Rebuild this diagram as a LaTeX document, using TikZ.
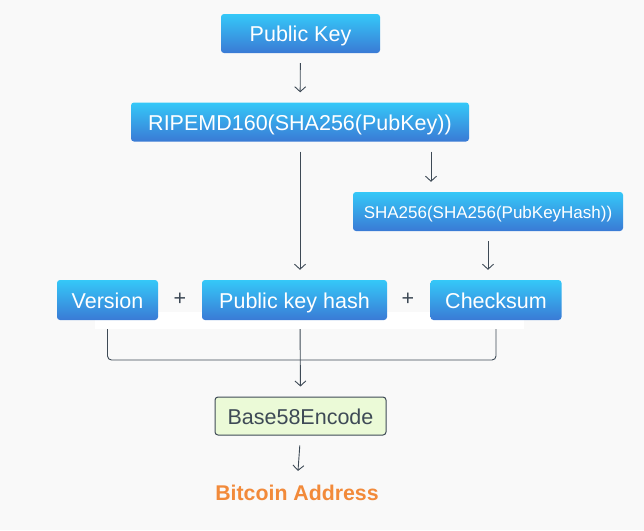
\documentclass[tikz,border=0pt]{standalone}
\usepackage{fontspec}
\setmainfont{Liberation Sans}
\usetikzlibrary{arrows.meta}

\definecolor{boxtop}{HTML}{35C8F8}
\definecolor{boxbot}{HTML}{3A7AD5}
\definecolor{ink}{HTML}{3E4A56}
\definecolor{paper}{HTML}{F9F9F9}
\definecolor{encfill}{HTML}{EBFAD7}
\definecolor{addr}{HTML}{F28A3A}

\begin{document}
\begin{tikzpicture}[x=1pt,y=-1pt,
    link/.style={draw=ink,line width=0.9pt},
    arr/.style={link,-{Straight Barb[length=5pt,width=11pt]},shorten <=10pt,shorten >=10pt}]

        \fill[paper] (0,0) rectangle (644,530);
        \useasboundingbox (0,0) rectangle (644,530);
        \fill[white] (95,312) rectangle (524,329);

        \begin{scope}[every node/.style={rounded corners=3pt, top color=boxtop, bottom color=boxbot,
            text=white, font=\fontsize{21.5}{24}\selectfont, text height=16.4pt, text depth=0pt,
            minimum height=39pt, inner sep=0pt}]
          \node[minimum width=159pt] (pubkey)   at (300.5,33.5) {Public Key};
          \node[minimum width=338pt] (ripemd)   at (300,122)    {RIPEMD160(SHA256(PubKey))};
          \node[minimum width=270pt, font=\fontsize{17}{20}\selectfont, text height=13pt]
                                     (sha)      at (488,211.5)  {SHA256(SHA256(PubKeyHash))};
          \node[minimum width=101pt, minimum height=40pt] (version)  at (107.5,300) {Version};
          \node[minimum width=185pt, minimum height=40pt] (pkhash)   at (294.5,300) {Public key hash};
          \node[minimum width=131pt, minimum height=40pt] (checksum) at (496,300)   {Checksum};
        \end{scope}

        \begin{scope}[every node/.style={text=ink, font=\fontsize{21.5}{24}\selectfont, inner sep=0pt}]
          \node (plus1) at (180,299) {+};
          \node (plus2) at (408,299) {+};
          \node[draw=ink, line width=1pt, fill=encfill, rounded corners=3pt,
                minimum width=171pt, minimum height=38pt, text height=16.4pt, text depth=0pt]
                (base58) at (300.5,416) {Base58Encode};
          \node[text=addr, font=\fontsize{21.3}{24}\selectfont\bfseries, text height=15.4pt, text depth=0pt]
                (address) at (297,492.8) {Bitcoin Address};
        \end{scope}

        \coordinate (shain) at (431,192);
        \coordinate (join)  at (300,360);

        \draw[arr] (pubkey) -- (ripemd);
        \draw[arr] (ripemd.south) -- (ripemd.south |- pkhash.north);
        \draw[arr] (ripemd.south -| shain) -- (sha.north -| shain);
        \draw[arr] (sha.south) -- (sha.south |- checksum.north);
        \draw[link, rounded corners=4pt, shorten <=9pt, shorten >=9pt]
          (version.south) |- (join) -| (checksum.south);
        \draw[arr, shorten <=9pt] (pkhash.south -| join) -- (base58.north);
        \draw[arr, shorten >=14pt] (base58.south) -- (address.north);

\end{tikzpicture}
\end{document}
